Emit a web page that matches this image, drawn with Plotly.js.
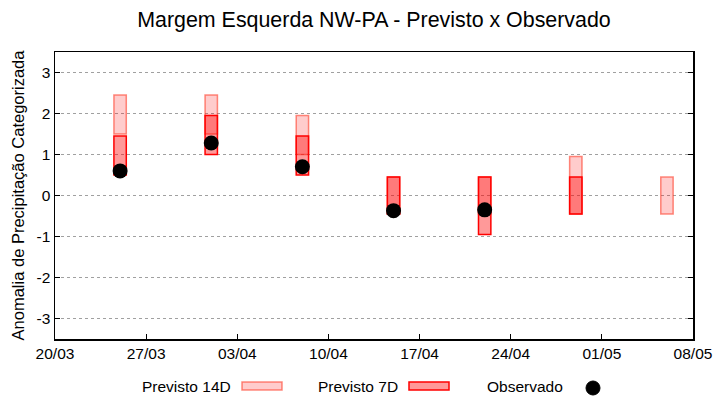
<!DOCTYPE html>
<html>
<head>
<meta charset="utf-8">
<script src="https://cdn.plot.ly/plotly-3.0.1.min.js"></script>
<style>html,body{margin:0;padding:0;background:#fff;}#chart{width:720px;height:400px;}</style>
</head>
<body>
<div id="chart"></div>
<script>
// Data
var dates = ['2024-03-25','2024-04-01','2024-04-08','2024-04-15','2024-04-22','2024-04-29','2024-05-06'];
var p14Low  = [1.5, 1.5, 1.0, -0.45, -0.45, -0.45, -0.45];
var p14High = [2.45, 2.45, 1.95, 0.45, 0.45, 0.95, 0.45];
var p7Low   = [0.5, 1.0, 0.5, -0.45, -0.95, -0.45, null];
var p7High  = [1.45, 1.95, 1.45, 0.45, 0.45, 0.45, null];
var obs     = [0.6, 1.28, 0.7, -0.37, -0.35, null, null];
var legendLabels = ['Previsto 14D', 'Previsto 7D', 'Observado'];
var yTicks = [-3, -2, -1, 0, 1, 2, 3];

var DAY = 86400000;
function heights(lo, hi){ return lo.map(function(v,i){ return (v===null||hi[i]===null)?null:hi[i]-v; }); }

var font = 'Liberation Sans, Arial, sans-serif';

var t14 = {
  type:'bar', x:dates, base:p14Low, y:heights(p14Low,p14High), width:0.95*DAY,
  marker:{color:'rgba(255,0,0,0.2)', line:{color:'rgba(255,60,40,0.6)', width:1.5}},
  name:legendLabels[0], showlegend:false, hoverinfo:'skip'
};
var t7 = {
  type:'bar', x:dates, base:p7Low, y:heights(p7Low,p7High), width:0.95*DAY,
  marker:{color:'rgba(255,0,0,0.4)', line:{color:'#ff0000', width:1.5}},
  name:legendLabels[1], showlegend:false, hoverinfo:'skip'
};
var tObs = {
  type:'scatter', mode:'markers', x:dates, y:obs,
  marker:{color:'#000', size:15, symbol:'circle'},
  name:legendLabels[2], showlegend:false, hoverinfo:'skip'
};

// legend helpers (pixel -> paper)
var L=55, R=693, T=52, B=339;
function px(x){ return (x-L)/(R-L); }
function py(y){ return (B-y)/(B-T); }

var layout = {
  width:720, height:400,
  margin:{l:L, r:720-R, t:T, b:400-B},
  paper_bgcolor:'#fff', plot_bgcolor:'#fff',
  barmode:'overlay',
  font:{family:font, size:15.5, color:'#000'},
  title:{text:'Margem Esquerda NW-PA - Previsto x Observado', x:0.5, xref:'paper', y:1-20/400, yref:'container', yanchor:'middle', font:{family:font, size:21.4, color:'#000'}},
  xaxis:{
    type:'date', range:['2024-03-20','2024-05-08'], tick0:'2024-03-20', dtick:7*DAY, tickformat:'%d/%m',
    showgrid:false, zeroline:false, showline:true, linecolor:'#000', linewidth:1.5, mirror:true,
    ticks:'inside', ticklen:5, tickcolor:'#000', tickfont:{size:15.5}
  },
  yaxis:{
    range:[-3.5,3.5], tickvals:yTicks, ticktext:yTicks.map(String),
    showgrid:true, gridcolor:'#a0a0a0', griddash:'3px,3px', gridwidth:1,
    zeroline:false, showline:true, linecolor:'#000', linewidth:1.5, mirror:'ticks',
    ticks:'inside', ticklen:5, tickcolor:'#000', tickfont:{size:15.5},
    title:{text:'Anomalia de Precipitação Categorizada', font:{size:16.5}, standoff:8}
  },
  annotations:[
    {xref:'paper', yref:'paper', x:px(233), y:py(386), xanchor:'right', yanchor:'middle', text:legendLabels[0], showarrow:false, font:{size:15.5}},
    {xref:'paper', yref:'paper', x:px(400), y:py(386), xanchor:'right', yanchor:'middle', text:legendLabels[1], showarrow:false, font:{size:15.5}},
    {xref:'paper', yref:'paper', x:px(565), y:py(386), xanchor:'right', yanchor:'middle', text:legendLabels[2], showarrow:false, font:{size:15.5}}
  ],
  shapes:[
    {type:'rect', xref:'paper', yref:'paper', x0:px(242), x1:px(282), y0:py(382), y1:py(390), fillcolor:'rgba(255,0,0,0.2)', line:{color:'rgba(255,60,40,0.6)', width:1.5}},
    {type:'rect', xref:'paper', yref:'paper', x0:px(409), x1:px(449), y0:py(382), y1:py(390), fillcolor:'rgba(255,0,0,0.4)', line:{color:'#ff0000', width:1.5}},
    {type:'circle', xref:'paper', yref:'paper', x0:px(586), x1:px(600), y0:py(381), y1:py(395), fillcolor:'#000', line:{color:'#000', width:1}}
  ]
};

Plotly.newPlot('chart', [t14, t7, tObs], layout, {displayModeBar:false, staticPlot:true});
</script>
</body>
</html>
